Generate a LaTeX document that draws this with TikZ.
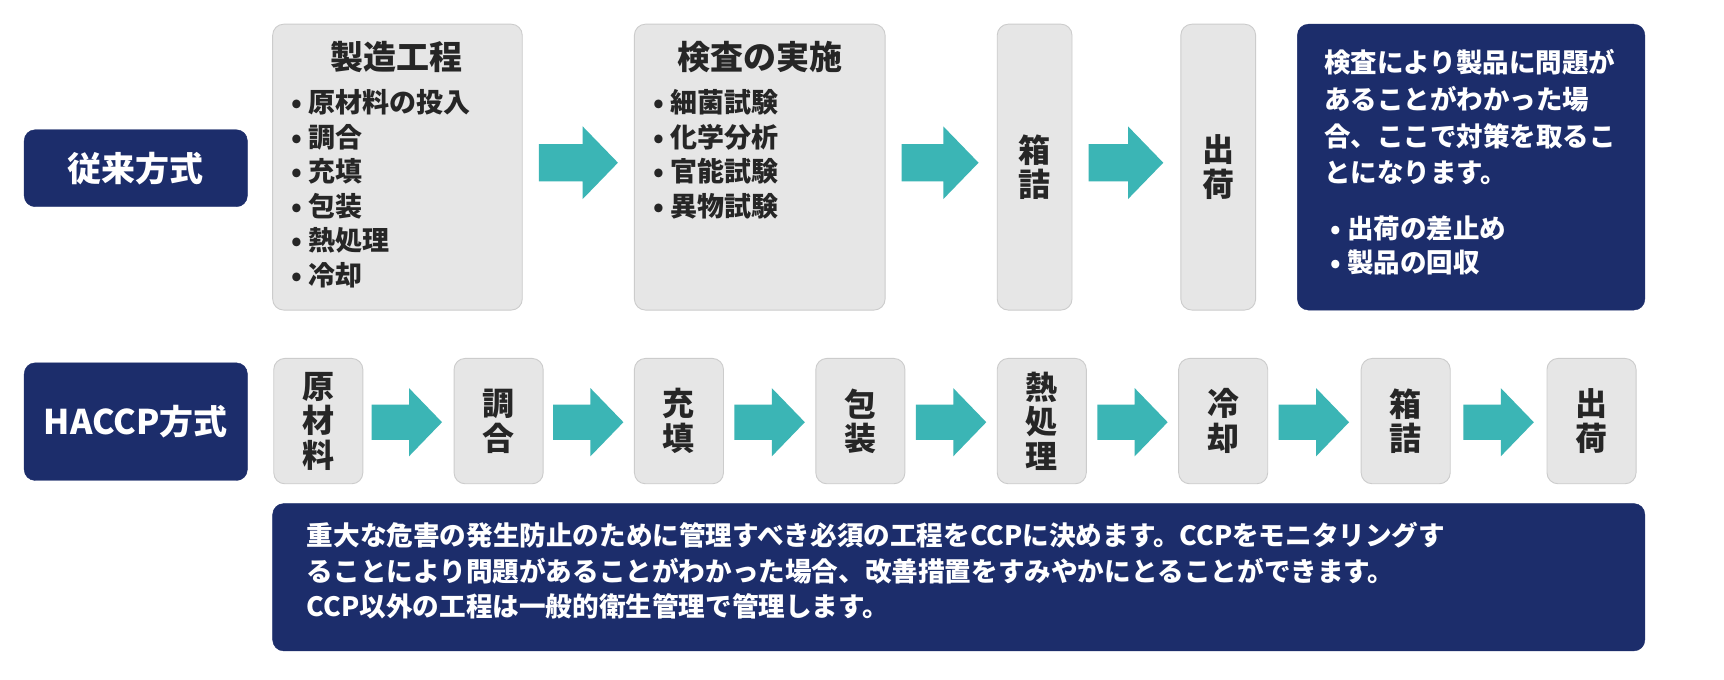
\documentclass[tikz,border=0pt]{standalone}
\usepackage{fontspec}
\setmainfont{Noto Sans CJK JP}
\definecolor{navy}{HTML}{1C2D6B}
\definecolor{lgray}{HTML}{E6E6E6}
\definecolor{teal2}{HTML}{3BB5B5}
\tikzset{
 gbox/.style={fill=lgray,draw=gray!40,rounded corners=11pt,line width=0.9pt},
 nbox/.style={fill=navy,draw=navy,rounded corners=11pt},
 vt/.style={font=\fontsize{32}{34.5}\selectfont\bfseries,align=center,text=black!85},
 bl/.style={font=\fontsize{27}{34.6}\selectfont\bfseries,align=left,anchor=north west,text=black!85},
 ttl/.style={font=\fontsize{33}{36}\selectfont\bfseries,text=black!85},
}
% block arrow: left x, center y, length, shaft half, head half, head length
\newcommand\blockarr[6]{\fill[teal2] (#1,#2-#4) -- (#1+#3-#6,#2-#4) -- (#1+#3-#6,#2-#5) -- (#1+#3,#2) -- (#1+#3-#6,#2+#5) -- (#1+#3-#6,#2+#4) -- (#1,#2+#4) -- cycle;}
\begin{document}
\begin{tikzpicture}[x=1.0995pt,y=-1.0995pt]
\fill[white] (0,0) rectangle (1568,618.4);
% left labels
\draw[nbox] (22,118) rectangle (225,188) node[midway,text=white,font=\fontsize{34}{36}\selectfont\bfseries] (l1) {従来方式};
\draw[nbox] (22,330) rectangle (225,437) node[midway,text=white,font=\fontsize{34}{36}\selectfont\bfseries] (l2) {HACCP方式};
% top row
\draw[gbox] (248,22) rectangle (475,282);
\node[ttl] (t1) at (361,52) {製造工程};
\node[bl] (b1) at (262,78) {• 原材料の投入\\• 調合\\• 充填\\• 包装\\• 熱処理\\• 冷却};
\blockarr{490}{148}{72}{17}{33}{32}
\draw[gbox] (577,22) rectangle (805,282);
\node[ttl] (t2) at (691,52) {検査の実施};
\node[bl] (b2) at (591,78) {• 細菌試験\\• 化学分析\\• 官能試験\\• 異物試験};
\blockarr{820}{148}{70}{17}{33}{32}
\draw[gbox] (907,22) rectangle (975,282) node[midway,vt] (h1) {箱\\詰};
\blockarr{990}{148}{68}{17}{33}{32}
\draw[gbox] (1074,22) rectangle (1142,282) node[midway,vt] (s1) {出\\荷};
\draw[nbox] (1180,22) rectangle (1496,282);
\node[bl,text=white,font=\fontsize{26.5}{36.6}\selectfont\bfseries] (r1) at (1201,42) {検査により製品に問題が\\あることがわかった場\\合、ここで対策を取るこ\\とになります。};
\node[bl,text=white,font=\fontsize{26.5}{34.1}\selectfont\bfseries] (r2) at (1207,193) {• 出荷の差止め\\• 製品の回収};
% bottom row
\foreach \x/\t [count=\i] in {249/{原\\材\\料},413/{調\\合},577/{充\\填},742/{包\\装},907/{熱\\処\\理},1072/{冷\\却},1238/{箱\\詰},1407/{出\\荷}}{
 \draw[gbox] (\x,326) rectangle (\x+81,440) node[midway,vt] (p\i) {\t};
}
\foreach \x in {338,503,668,833,998,1163,1331}{
 \blockarr{\x}{384}{64}{16}{31}{30}
}
\draw[nbox] (248,458) rectangle (1496,592);
\node[bl,text=white,font=\fontsize{26.6}{35.5}\selectfont\bfseries] (bt) at (276,472) {重大な危害の発生防止のために管理すべき必須の工程をCCPに決めます。CCPをモニタリングす\\ることにより問題があることがわかった場合、改善措置をすみやかにとることができます。\\CCP以外の工程は一般的衛生管理で管理します。};
\pgfresetboundingbox
\useasboundingbox (0,0) rectangle (1568,618.4);
\end{tikzpicture}
\end{document}
